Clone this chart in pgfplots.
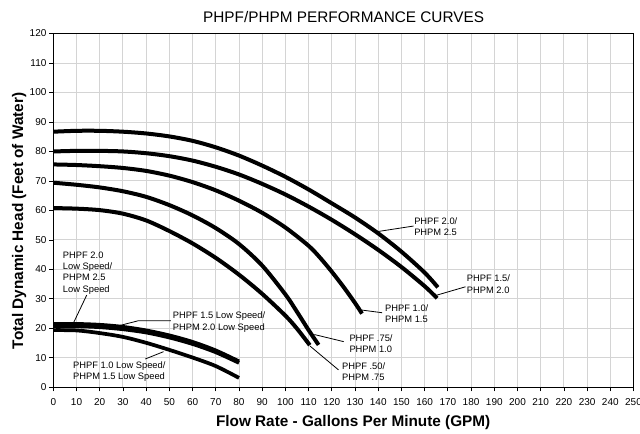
\documentclass[border=0pt]{standalone}
\usepackage{pgfplots}
\pgfplotsset{compat=1.18}
\usepackage{fontspec}
\setmainfont{Liberation Sans}
\begin{document}
\begin{tikzpicture}
\useasboundingbox (-40pt,-35pt) rectangle (440pt,290.5pt);
\begin{axis}[
  at={(0pt,0pt)}, anchor=south west,
  scale only axis, width=435.15pt, height=265.35pt,
  xmin=0, xmax=250, ymin=0, ymax=120,
  xtick={0,10,...,250}, ytick={0,10,...,120},
  grid=major, major grid style={color=black!17, line width=0.7pt},
  axis line style={black, line width=0.8pt},
  tick align=outside, major tick length=3pt, xtick pos=left, ytick pos=left,
  tick style={black, line width=0.6pt},
  /pgf/number format/assume math mode=true,
  ticklabel style={font=\fontsize{7.5}{9}\selectfont},
  xticklabel style={anchor=north, inner sep=0pt, yshift=-5.5pt},
  yticklabel style={anchor=east, inner sep=0pt, xshift=-2pt},
  clip=false,
  cycle list={{black, no markers}},
  every axis plot/.append style={black, no markers, line width=3pt, smooth, line cap=butt},
]
% PHPF 2.0 / PHPM 2.5
\addplot coordinates {(0,86.7) (10,87) (20,87) (30,86.7) (40,86.1) (50,85.1) (60,83.6) (70,81.4) (80,78.6) (90,75.2) (100,71.4) (110,67.1) (120,62.4) (130,57.6) (140,52.2) (150,46) (160,38.9) (165.7,33.9)};
% PHPF 1.5 / PHPM 2.0
\addplot coordinates {(0,80) (10,80.2) (20,80.2) (30,80) (40,79.4) (50,78.4) (60,76.9) (70,74.8) (80,72.2) (90,69) (100,65.4) (110,61.3) (120,56.8) (130,51.9) (140,46.6) (150,40.8) (160,34.3) (165.4,30.2)};
% PHPF 1.0 / PHPM 1.5
\addplot coordinates {(0,75.6) (10,75.4) (20,75) (30,74.4) (40,73.4) (50,71.8) (60,69.6) (70,66.8) (80,63.3) (90,59.2) (100,54.2) (110,48) (115,43.9) (120,39.2) (125,34.1) (130,28.6) (133,25)};
% PHPF .75 / PHPM 1.0
\addplot coordinates {(0,69.4) (10,68.7) (20,67.8) (30,66.5) (40,64.6) (50,61.8) (60,58.3) (70,54) (80,48.6) (90,41.3) (100,31.5) (105,25.6) (110,19.4) (114.3,14.4)};
% PHPF .50 / PHPM .75
\addplot coordinates {(0,60.8) (10,60.6) (20,60.1) (30,58.9) (40,56.6) (50,53) (60,48.8) (70,43.9) (80,38.2) (90,31.7) (100,24.3) (105,19.9) (110.5,14.3)};
% Low speed curves
\addplot[black, no markers, smooth, line width=2.8pt] coordinates {(0,21.5) (10,21.5) (20,21.2) (30,20.5) (40,19.3) (50,17.6) (60,15.4) (70,12.5) (80,8.8)};
\addplot[black, no markers, smooth, line width=2.8pt] coordinates {(0,20.6) (10,20.7) (20,20.4) (30,19.7) (40,18.6) (50,16.9) (60,14.7) (70,11.9) (80,8.3)};
\addplot[black, no markers, smooth, line width=2.8pt] coordinates {(0,19.4) (10,19.3) (20,18.4) (30,17.1) (40,15.1) (50,12.7) (60,10.1) (70,7.2) (80,3.2)};

\begin{scope}[line width=0.6pt]
\draw (axis cs:139.5,52.8) -- (axis cs:155.2,54.7);
\draw (axis cs:165.4,31.3) -- (axis cs:177.6,34.1);
\draw (axis cs:133.0,26.2) -- (axis cs:141.7,25.3);
\draw (axis cs:112.5,17.9) -- (axis cs:125.1,15.5);
\draw (axis cs:110.6,14.0) -- (axis cs:122.9,5.9);
\draw (axis cs:8.6,21.7) -- (axis cs:14.4,31.3);
\draw (axis cs:28.8,21.0) -- (axis cs:36.7,22.6) -- (axis cs:50.6,22.6);
\draw (axis cs:47.5,12.1) -- (axis cs:39.6,9.6);
\end{scope}
\begin{scope}[every node/.style={anchor=west, align=left, inner sep=0pt, font=\fontsize{7}{8.5}\selectfont}]
\node at (axis cs:155.4,54.6) {PHPF 2.0/\\PHPM 2.5};
\node at (axis cs:178.1,35.0) {PHPF 1.5/\\PHPM 2.0};
\node at (axis cs:142.9,24.9) {PHPF 1.0/\\PHPM 1.5};
\node at (axis cs:127.5,14.9) {PHPF .75/\\PHPM 1.0};
\node at (axis cs:124.3,5.3) {PHPF .50/\\PHPM .75};
\node at (axis cs:4.05,38.8) {PHPF 2.0\\Low Speed/\\PHPM 2.5\\Low Speed};
\node at (axis cs:51.4,22.1) {PHPF 1.5 Low Speed/\\PHPM 2.0 Low Speed};
\node at (axis cs:8.4,5.3) {PHPF 1.0 Low Speed/\\PHPM 1.5 Low Speed};
\end{scope}
\end{axis}
\node[font=\fontsize{11.5}{13}\selectfont] at (217.7pt,277.6pt) {PHPF/PHPM PERFORMANCE CURVES};
\node[anchor=west, inner sep=0pt, font=\fontsize{11.5}{13}\selectfont\bfseries] at (121.8pt,-26.6pt) {Flow Rate - Gallons Per Minute (GPM)};
\node[rotate=90, inner sep=0pt, font=\fontsize{11.5}{13}\selectfont\bfseries] at (-25.6pt,124.9pt) {Total Dynamic Head (Feet of Water)};
\end{tikzpicture}
\end{document}
